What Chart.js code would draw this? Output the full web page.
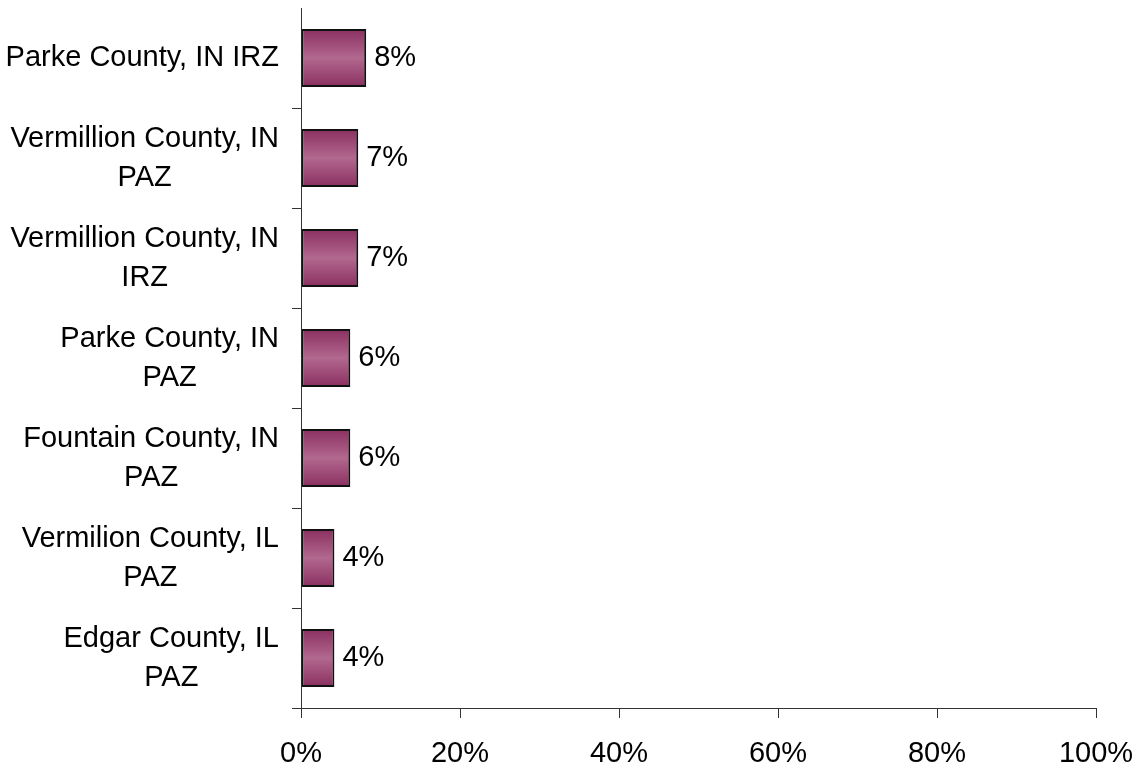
<!DOCTYPE html>
<html>
<head>
<meta charset="utf-8">
<script src="https://cdn.jsdelivr.net/npm/chart.js@4/dist/chart.umd.min.js"></script>
<style>
  html, body { margin: 0; padding: 0; background: #fff; }
  #wrap { width: 1138px; height: 768px; }
</style>
</head>
<body>
<div id="wrap"><canvas id="chart" width="1138" height="768"></canvas></div>
<script>
// ================= DATA =================
const categories = [
    ["Parke County, IN IRZ"],
    ["Vermillion County, IN", "PAZ"],
    ["Vermillion County, IN", "IRZ"],
    ["Parke County, IN", "PAZ"],
    ["Fountain County, IN", "PAZ"],
    ["Vermilion County, IL", "PAZ"],
    ["Edgar County, IL", "PAZ"]
];
const shares = [8.2, 7.2, 7.2, 6.2, 6.2, 4.2, 4.2];
const xTicks = [0, 20, 40, 60, 80, 100];

const FONT = "'Liberation Sans', Arial, sans-serif";
const FONT_SIZE = 29;

// ================= BAR GRADIENT =================
function barFill(context) {
    const chart = context.chart;
    const y = chart.scales.y;
    if (!chart.chartArea || !y) return "#a0507c";
    const center = y.getPixelForValue(context.dataIndex);
    const half = (y.height / categories.length) * 0.58 / 2;
    const g = chart.ctx.createLinearGradient(0, center - half, 0, center + half);
    g.addColorStop(0, "#8a2f60");
    g.addColorStop(0.5, "#b2688f");
    g.addColorStop(1, "#8a2f60");
    return g;
}

// ================= CATEGORY LABELS =================
// each label block right aligned, its lines centred on each other
const categoryLabels = {
    id: "categoryLabels",
    afterDraw(chart) {
        const ctx = chart.ctx;
        const y = chart.scales.y;
        const right = chart.chartArea.left - 22;
        const lineH = 39;
        ctx.save();
        ctx.font = `${FONT_SIZE}px ${FONT}`;
        ctx.fillStyle = "#000";
        ctx.textAlign = "center";
        ctx.textBaseline = "middle";
        categories.forEach((lines, i) => {
            const w = Math.max(...lines.map(l => ctx.measureText(l).width));
            const cx = right - w / 2;
            const cy = y.getPixelForValue(i);
            const top = cy - (lines.length - 1) * lineH / 2;
            lines.forEach((l, k) => ctx.fillText(l, cx, top + k * lineH));
        });
        ctx.restore();
    }
};

// ================= VALUE LABELS =================
const valueLabels = {
    id: "valueLabels",
    afterDatasetsDraw(chart) {
        const ctx = chart.ctx;
        const meta = chart.getDatasetMeta(0);
        ctx.save();
        ctx.font = `${FONT_SIZE}px ${FONT}`;
        ctx.fillStyle = "#000";
        ctx.textAlign = "left";
        ctx.textBaseline = "middle";
        meta.data.forEach((bar, i) => {
            ctx.fillText(Math.round(shares[i]) + "%", bar.x + 8, bar.y);
        });
        ctx.restore();
    }
};

new Chart(document.getElementById("chart"), {
    type: "bar",
    data: {
        labels: categories,
        datasets: [{
            data: shares,
            backgroundColor: barFill,
            borderColor: "#111",
            borderWidth: 2,
            borderSkipped: false,
            categoryPercentage: 1,
            barPercentage: 0.58
        }]
    },
    options: {
        indexAxis: "y",
        responsive: false,
        animation: false,
        events: [],
        layout: { padding: { top: 8, right: 42, left: 0, bottom: 0 } },
        plugins: { legend: { display: false }, tooltip: { enabled: false } },
        scales: {
            x: {
                min: 0,
                max: 100,
                afterBuildTicks: (s) => { s.ticks = xTicks.map(v => ({ value: v })); },
                afterFit: (s) => {
                    s.height = 60;
                    s.paddingLeft = 0;
                    s.paddingRight = 0;
                },
                border: { color: "#333", width: 1 },
                grid: { drawOnChartArea: false, drawTicks: true, tickLength: 10, color: "#333" },
                ticks: {
                    color: "#000",
                    padding: 19,
                    maxRotation: 0,
                    font: { family: FONT, size: FONT_SIZE },
                    callback: (v) => v + "%"
                }
            },
            y: {
                afterFit: (s) => { s.width = 301; },
                border: { color: "#333", width: 1 },
                grid: {
                    drawOnChartArea: false,
                    drawTicks: true,
                    tickLength: 9,
                    color: (c) => c.index === 0 ? "rgba(0,0,0,0)" : "#333"
                },
                ticks: { display: false }
            }
        }
    },
    plugins: [categoryLabels, valueLabels]
});
</script>
</body>
</html>
